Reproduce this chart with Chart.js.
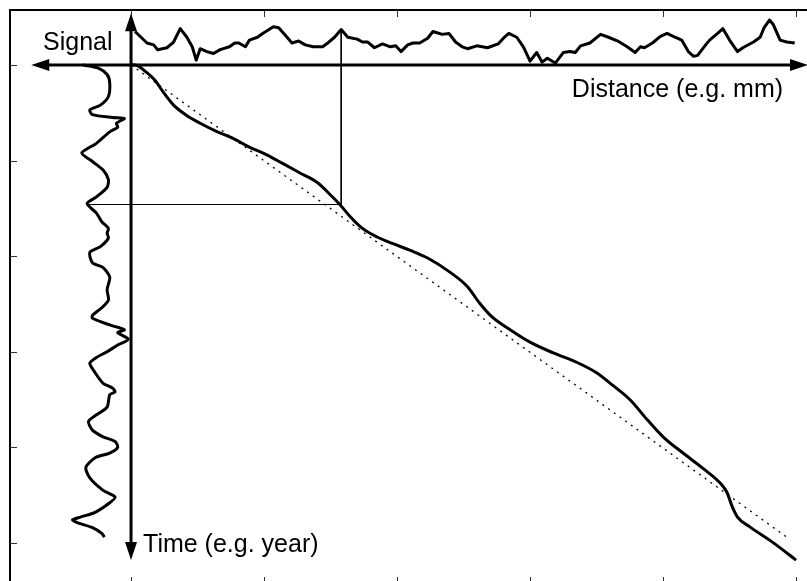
<!DOCTYPE html>
<html>
<head>
<meta charset="utf-8">
<script src="https://cdn.jsdelivr.net/npm/chart.js@4.4.1/dist/chart.umd.min.js"></script>
<style>
    html, body { margin: 0; padding: 0; background: #fff; overflow: hidden; }
    #wrap { position: absolute; left: 0; top: 0; width: 840px; height: 600px; }
</style>
</head>
<body>
<div id="wrap"><canvas id="profileChart" width="840" height="600"></canvas></div>
<script>
// tick marks (distance / time units)
const distanceTicks = [0, 1, 2, 3, 4, 5];
const timeTicks = [0, 1, 2, 3, 4, 5];

// arrow extents of the two axes
const distanceAxisRange = [-0.75, 5.09];
const timeAxisRange = [-0.54, 5.18];

// depth-time curve
const profileDistance = [0, 0.03, 0.11, 0.18, 0.24, 0.32, 0.41, 0.52, 0.65, 0.77, 0.89, 1.02, 1.14, 1.27, 1.40, 1.50, 1.57, 1.65, 1.74, 1.85, 1.97, 2.10, 2.23, 2.40, 2.53, 2.62, 2.71, 2.85, 3.00, 3.17, 3.35, 3.50, 3.62, 3.75, 3.88, 4.00, 4.15, 4.30, 4.44, 4.48, 4.52, 4.56, 4.65, 4.83, 5.00];
const profileTime = [0, 0.00, 0.07, 0.16, 0.28, 0.42, 0.52, 0.61, 0.70, 0.77, 0.86, 0.94, 1.03, 1.13, 1.23, 1.36, 1.46, 1.59, 1.71, 1.80, 1.87, 1.94, 2.02, 2.17, 2.32, 2.49, 2.63, 2.77, 2.90, 3.01, 3.11, 3.22, 3.35, 3.50, 3.71, 3.89, 4.06, 4.22, 4.39, 4.47, 4.62, 4.73, 4.83, 5.00, 5.18];

// straight (constant rate) reference
const trendDistance = [0, 4.95];
const trendTime = [0, 4.96];

// signal measured along distance (height above the distance axis)
const distanceSamples = [0.03, 0.12, 0.17, 0.20, 0.27, 0.32, 0.37, 0.42, 0.46, 0.49, 0.52, 0.57, 0.62, 0.67, 0.74, 0.78, 0.81, 0.86, 0.89, 0.95, 0.99, 1.07, 1.11, 1.16, 1.21, 1.26, 1.31, 1.37, 1.44, 1.48, 1.53, 1.58, 1.63, 1.70, 1.74, 1.78, 1.83, 1.89, 1.95, 1.99, 2.03, 2.08, 2.12, 2.17, 2.23, 2.27, 2.34, 2.39, 2.44, 2.49, 2.53, 2.60, 2.68, 2.76, 2.80, 2.84, 2.90, 2.95, 3.00, 3.05, 3.09, 3.13, 3.19, 3.25, 3.30, 3.34, 3.38, 3.45, 3.53, 3.59, 3.66, 3.73, 3.79, 3.83, 3.86, 3.92, 3.98, 4.03, 4.09, 4.14, 4.19, 4.23, 4.26, 4.32, 4.35, 4.41, 4.45, 4.50, 4.56, 4.60, 4.68, 4.73, 4.76, 4.80, 4.83, 4.88, 4.93, 4.99];
const distanceSignal = [0.35, 0.23, 0.21, 0.16, 0.18, 0.24, 0.38, 0.29, 0.19, 0.05, 0.17, 0.14, 0.12, 0.16, 0.19, 0.23, 0.23, 0.19, 0.26, 0.29, 0.33, 0.40, 0.39, 0.31, 0.23, 0.25, 0.21, 0.19, 0.19, 0.23, 0.29, 0.37, 0.29, 0.27, 0.24, 0.24, 0.18, 0.22, 0.19, 0.20, 0.14, 0.21, 0.23, 0.23, 0.28, 0.35, 0.32, 0.33, 0.24, 0.19, 0.17, 0.20, 0.18, 0.22, 0.28, 0.33, 0.29, 0.19, 0.04, 0.13, 0.03, 0.07, 0.02, 0.13, 0.14, 0.13, 0.20, 0.23, 0.32, 0.29, 0.25, 0.19, 0.13, 0.19, 0.18, 0.23, 0.30, 0.33, 0.29, 0.26, 0.14, 0.09, 0.10, 0.21, 0.26, 0.33, 0.38, 0.26, 0.14, 0.18, 0.24, 0.29, 0.39, 0.47, 0.42, 0.26, 0.24, 0.23];

// signal measured along time (extends left of the time axis)
const timeSamples = [0.00, 0.03, 0.10, 0.19, 0.33, 0.42, 0.47, 0.52, 0.55, 0.56, 0.61, 0.65, 0.70, 0.82, 0.92, 1.01, 1.10, 1.20, 1.28, 1.38, 1.45, 1.55, 1.64, 1.71, 1.76, 1.81, 1.90, 1.96, 2.07, 2.12, 2.22, 2.35, 2.46, 2.54, 2.62, 2.65, 2.72, 2.77, 2.80, 2.87, 2.93, 3.00, 3.06, 3.12, 3.22, 3.33, 3.38, 3.42, 3.45, 3.58, 3.66, 3.73, 3.82, 3.89, 3.94, 4.00, 4.06, 4.11, 4.21, 4.32, 4.45, 4.52, 4.58, 4.68, 4.73, 4.76, 4.79, 4.84, 4.90, 4.94];
const timeSignal = [0.36, 0.25, 0.18, 0.16, 0.17, 0.23, 0.31, 0.29, 0.14, 0.05, 0.11, 0.10, 0.16, 0.26, 0.37, 0.29, 0.21, 0.17, 0.18, 0.26, 0.33, 0.26, 0.22, 0.17, 0.18, 0.17, 0.23, 0.31, 0.29, 0.21, 0.16, 0.18, 0.17, 0.22, 0.29, 0.29, 0.16, 0.05, 0.10, 0.02, 0.10, 0.18, 0.26, 0.31, 0.27, 0.21, 0.14, 0.12, 0.16, 0.18, 0.26, 0.32, 0.29, 0.21, 0.12, 0.10, 0.16, 0.27, 0.34, 0.31, 0.21, 0.12, 0.16, 0.27, 0.38, 0.44, 0.40, 0.29, 0.22, 0.20];

// guide from the two signal peaks to the curve
const guideDistance = [1.58, 1.58, -0.33];
const guideTime = [-0.37, 1.46, 1.46];

function pairs(xs, ys) {
    return xs.map((v, i) => ({ x: v, y: ys[i] }));
}

const FONT = '25px "Liberation Sans", Arial, sans-serif';

const frameAndArrows = {
    id: 'frameAndArrows',
    afterDatasetsDraw(chart) {
        const { ctx, chartArea: a, scales: { x, y } } = chart;
        ctx.save();

        // box
        ctx.strokeStyle = '#000';
        ctx.lineWidth = 2;
        ctx.strokeRect(a.left, a.top, a.right - a.left, a.bottom - a.top);

        // inward ticks
        ctx.lineWidth = 1;
        ctx.strokeStyle = '#333';
        ctx.beginPath();
        distanceTicks.forEach(v => {
            const px = Math.round(x.getPixelForValue(v)) + 0.5;
            ctx.moveTo(px, a.top); ctx.lineTo(px, a.top + 7);
            ctx.moveTo(px, a.bottom); ctx.lineTo(px, a.bottom - 7);
        });
        timeTicks.forEach(v => {
            const py = Math.round(y.getPixelForValue(v)) + 0.5;
            ctx.moveTo(a.left, py); ctx.lineTo(a.left + 7, py);
            ctx.moveTo(a.right, py); ctx.lineTo(a.right - 7, py);
        });
        ctx.stroke();

        // axes with arrows
        const x0 = x.getPixelForValue(0);
        const y0 = y.getPixelForValue(0);
        const xl = x.getPixelForValue(distanceAxisRange[0]);
        const xr = x.getPixelForValue(distanceAxisRange[1]);
        const yt = y.getPixelForValue(timeAxisRange[0]);
        const yb = y.getPixelForValue(timeAxisRange[1]);
        const len = 18, half = 6;

        ctx.strokeStyle = '#000';
        ctx.lineWidth = 3;
        ctx.beginPath();
        ctx.moveTo(xl + len - 2, y0); ctx.lineTo(xr - len + 2, y0);
        ctx.moveTo(x0, yt + len - 2); ctx.lineTo(x0, yb - len + 2);
        ctx.stroke();

        ctx.fillStyle = '#000';
        function head(tx, ty, dx, dy) {
            const bx = tx - dx * len, by = ty - dy * len;
            ctx.beginPath();
            ctx.moveTo(tx, ty);
            ctx.lineTo(bx - dy * half, by + dx * half);
            ctx.lineTo(bx + dy * half, by - dx * half);
            ctx.closePath();
            ctx.fill();
        }
        head(xl, y0, -1, 0);
        head(xr, y0, 1, 0);
        head(x0, yt, 0, -1);
        head(x0, yb, 0, 1);

        // labels
        ctx.font = FONT;
        ctx.textBaseline = 'alphabetic';
        ctx.textAlign = 'left';
        ctx.fillText('Signal', x0 - 88, y0 - 15);
        ctx.fillText('Time (e.g. year)', x0 + 12, yb - 8);
        ctx.textAlign = 'right';
        ctx.fillText('Distance (e.g. mm)', xr - 25, y0 + 32);

        ctx.restore();
    }
};

const chart = new Chart(document.getElementById('profileChart').getContext('2d'), {
    type: 'line',
    data: {
        datasets: [
            {
                // measured curve
                data: pairs(profileDistance, profileTime),
                borderColor: '#000',
                borderWidth: 3,
                cubicInterpolationMode: 'monotone',
                pointRadius: 0
            },
            {
                // linear reference
                data: pairs(trendDistance, trendTime),
                borderColor: '#000',
                borderWidth: 1.3,
                borderDash: [2, 5],
                pointRadius: 0
            },
            {
                data: pairs(distanceSamples, distanceSignal.map(v => -v)),
                borderColor: '#000',
                borderWidth: 3,
                borderJoinStyle: 'round',
                tension: 0,
                pointRadius: 0
            },
            {
                data: pairs(timeSignal.map(v => -v), timeSamples),
                borderColor: '#000',
                borderWidth: 3,
                borderJoinStyle: 'round',
                tension: 0.25,
                pointRadius: 0
            },
            {
                data: pairs(guideDistance, guideTime),
                borderColor: '#000',
                borderWidth: 1,
                tension: 0,
                pointRadius: 0
            }
        ]
    },
    options: {
        responsive: false,
        animation: false,
        events: [],
        layout: {
            padding: { left: 10, top: 10, right: 20, bottom: 16 }
        },
        scales: {
            x: {
                type: 'linear',
                min: -0.91,
                max: 5.18,
                display: false
            },
            y: {
                type: 'linear',
                reverse: true,
                min: -0.575,
                max: 5.43,
                display: false
            }
        },
        plugins: {
            legend: { display: false },
            tooltip: { enabled: false }
        }
    },
    plugins: [frameAndArrows]
});
</script>
</body>
</html>
